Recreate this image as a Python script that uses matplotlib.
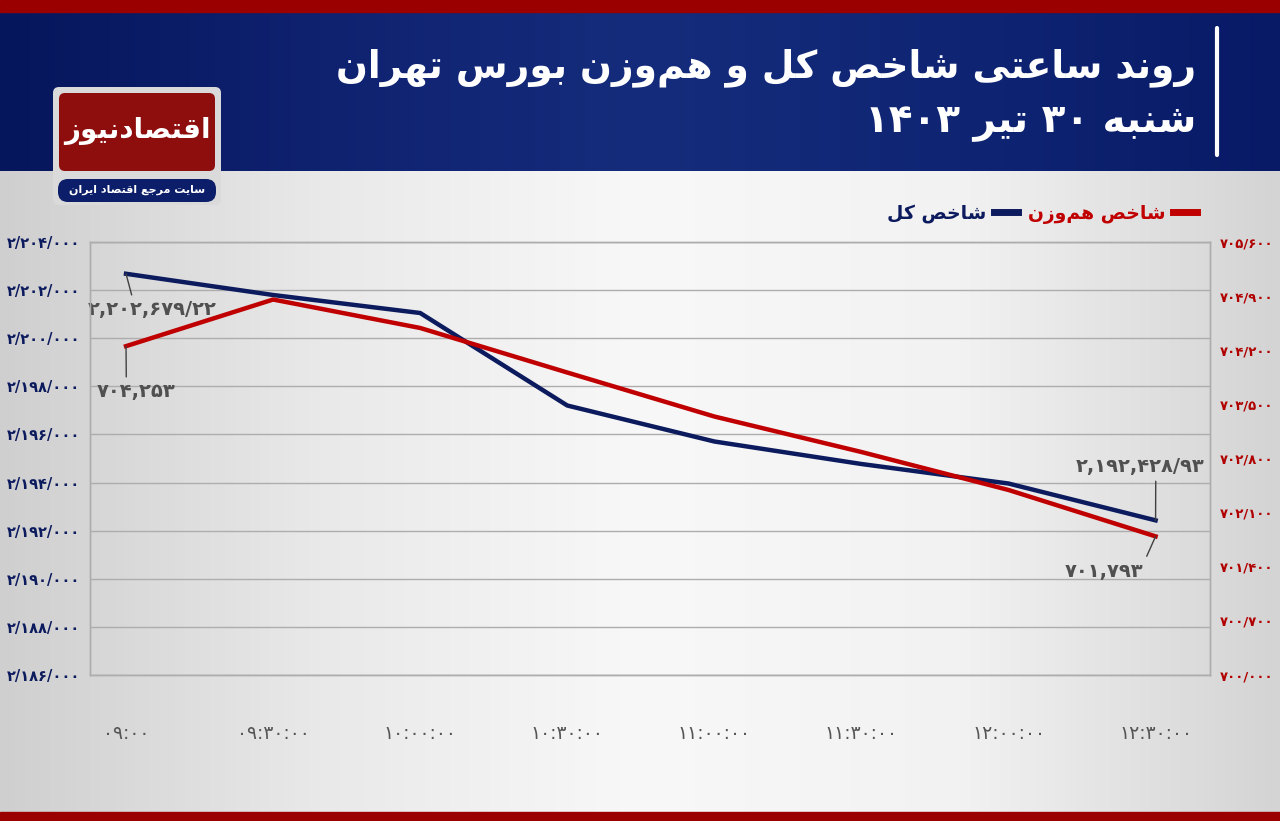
import re
import numpy as np
import matplotlib
matplotlib.use("Agg")
import matplotlib.pyplot as plt
from matplotlib.patches import FancyBboxPatch, Rectangle
from matplotlib.colors import LinearSegmentedColormap
from matplotlib.ticker import FixedLocator, FuncFormatter

# data
times = ["09:00", "09:30:00", "10:00:00", "10:30:00", "11:00:00", "11:30:00", "12:00:00", "12:30:00"]
total_index = [2202679.22, 2201797, 2201048, 2197203, 2195707, 2194771, 2193960, 2192428.93]
equal_index = [704253, 704856, 704488, 703912, 703343, 702884, 702393, 701793]
left_ticks = [2186000, 2188000, 2190000, 2192000, 2194000, 2196000, 2198000, 2200000, 2202000, 2204000]
right_ticks = [700000, 700700, 701400, 702100, 702800, 703500, 704200, 704900, 705600]

title1 = "روند ساعتی شاخص کل و هم\u200cوزن بورس تهران"
title2 = "شنبه ۳۰ تیر ۱۴۰۳"
name_total = "شاخص کل"
name_equal = "شاخص هم\u200cوزن"
logo_text = "اقتصادنیوز"
logo_sub = "سایت مرجع اقتصاد ایران"

NAVY = "#0c1a5e"
RED = "#c00000"

# --- simple arabic shaping (isolated, final, initial, medial)
FORMS = {
    'ا': ('\uFE8D', '\uFE8E', None, None),
    'آ': ('\uFE81', '\uFE82', None, None),
    'ب': ('\uFE8F', '\uFE90', '\uFE91', '\uFE92'),
    'پ': ('\uFB56', '\uFB57', '\uFB58', '\uFB59'),
    'ت': ('\uFE95', '\uFE96', '\uFE97', '\uFE98'),
    'ث': ('\uFE99', '\uFE9A', '\uFE9B', '\uFE9C'),
    'ج': ('\uFE9D', '\uFE9E', '\uFE9F', '\uFEA0'),
    'چ': ('\uFB7A', '\uFB7B', '\uFB7C', '\uFB7D'),
    'ح': ('\uFEA1', '\uFEA2', '\uFEA3', '\uFEA4'),
    'خ': ('\uFEA5', '\uFEA6', '\uFEA7', '\uFEA8'),
    'د': ('\uFEA9', '\uFEAA', None, None),
    'ذ': ('\uFEAB', '\uFEAC', None, None),
    'ر': ('\uFEAD', '\uFEAE', None, None),
    'ز': ('\uFEAF', '\uFEB0', None, None),
    'ژ': ('\uFB8A', '\uFB8B', None, None),
    'س': ('\uFEB1', '\uFEB2', '\uFEB3', '\uFEB4'),
    'ش': ('\uFEB5', '\uFEB6', '\uFEB7', '\uFEB8'),
    'ص': ('\uFEB9', '\uFEBA', '\uFEBB', '\uFEBC'),
    'ض': ('\uFEBD', '\uFEBE', '\uFEBF', '\uFEC0'),
    'ط': ('\uFEC1', '\uFEC2', '\uFEC3', '\uFEC4'),
    'ظ': ('\uFEC5', '\uFEC6', '\uFEC7', '\uFEC8'),
    'ع': ('\uFEC9', '\uFECA', '\uFECB', '\uFECC'),
    'غ': ('\uFECD', '\uFECE', '\uFECF', '\uFED0'),
    'ف': ('\uFED1', '\uFED2', '\uFED3', '\uFED4'),
    'ق': ('\uFED5', '\uFED6', '\uFED7', '\uFED8'),
    'ک': ('\uFB8E', '\uFB8F', '\uFB90', '\uFB91'),
    'گ': ('\uFB92', '\uFB93', '\uFB94', '\uFB95'),
    'ل': ('\uFEDD', '\uFEDE', '\uFEDF', '\uFEE0'),
    'م': ('\uFEE1', '\uFEE2', '\uFEE3', '\uFEE4'),
    'ن': ('\uFEE5', '\uFEE6', '\uFEE7', '\uFEE8'),
    'ه': ('\uFEE9', '\uFEEA', '\uFEEB', '\uFEEC'),
    'و': ('\uFEED', '\uFEEE', None, None),
    'ی': ('\uFBFC', '\uFBFD', '\uFBFE', '\uFBFF'),
}


def fa(s):
    out = []
    for i, ch in enumerate(s):
        if ch not in FORMS:
            out.append(ch)
            continue
        prev = s[i - 1] if i > 0 else None
        nxt = s[i + 1] if i < len(s) - 1 else None
        jp = prev in FORMS and FORMS[prev][2] is not None
        jn = nxt in FORMS and FORMS[ch][2] is not None
        iso, fin, ini, med = FORMS[ch]
        out.append(med if (jp and jn) else fin if jp else ini if jn else iso)
    t = "".join(out).replace("\u200c", "")[::-1]
    t = re.sub(r"[0-9۰-۹][0-9۰-۹,/:.]*", lambda m: m.group(0)[::-1], t)
    return t


def fdig(s):
    return s.translate(str.maketrans("0123456789", "۰۱۲۳۴۵۶۷۸۹"))


plt.rcParams["font.family"] = ["DejaVu Sans"]

fig = plt.figure(figsize=(12.8, 8.21), dpi=100)

# background canvas in pixel coords
bg = fig.add_axes([0, 0, 1, 1])
bg.axis("off")

gray_cm = LinearSegmentedColormap.from_list("g", ["#cfcfcf", "#e9e9e9", "#f8f8f8", "#f2f2f2", "#d4d4d4"])
bg.imshow(np.linspace(0, 1, 256)[None, :], cmap=gray_cm, aspect="auto", extent=(0, 1280, 812, 170))
navy_cm = LinearSegmentedColormap.from_list("n", ["#06165c", "#0f2270", "#152c7c", "#0f2574", "#081a66"])
bg.imshow(np.linspace(0, 1, 256)[None, :], cmap=navy_cm, aspect="auto", extent=(0, 1280, 171, 12))
bg.add_patch(Rectangle((0, 0), 1280, 12, color="#9b0000"))
bg.add_patch(Rectangle((0, 812), 1280, 9, color="#9b0000"))
bg.set_xlim(0, 1280)
bg.set_ylim(821, 0)

# title
bg.plot([1217, 1217], [28, 155], color="white", lw=3, solid_capstyle="round")
bg.text(1196, 68, fa(title1), color="white", fontsize=27, fontweight="bold", ha="right", va="center")
bg.text(1196, 123, fa(title2), color="white", fontsize=28, fontweight="bold", ha="right", va="center")

# logo
bg.add_patch(FancyBboxPatch((53, 87), 168, 118, boxstyle="round,pad=0,rounding_size=6", fc="#dadada", ec="none"))
bg.add_patch(FancyBboxPatch((59, 93), 156, 78, boxstyle="round,pad=0,rounding_size=6", fc="#8e0d0d", ec="none"))
bg.text(137, 131, fa(logo_text), color="white", fontsize=20, fontweight="bold", ha="center", va="center")
bg.add_patch(FancyBboxPatch((58, 179), 158, 23, boxstyle="round,pad=0,rounding_size=10", fc="#0c1d69", ec="none"))
bg.text(137, 190, fa(logo_sub), color="white", fontsize=8, fontweight="bold", ha="center", va="center")

# main chart
ax = fig.add_axes([90 / 1280, (821 - 675) / 821, 1120 / 1280, 433 / 821])
ax.set_facecolor("none")
ax2 = ax.twinx()
x = np.arange(len(times))
ax.plot(x, total_index, color=NAVY, lw=3.2, label=fa(name_total), zorder=3)
ax2.plot(x, equal_index, color=RED, lw=3.2, label=fa(name_equal), zorder=3)

ax.set_xlim(-0.245, 7.37)
ax.set_ylim(left_ticks[0], left_ticks[-1])
ax2.set_ylim(right_ticks[0], right_ticks[-1])
ax.yaxis.set_major_locator(FixedLocator(left_ticks))
ax2.yaxis.set_major_locator(FixedLocator(right_ticks))
ax.yaxis.set_major_formatter(FuncFormatter(lambda v, p: fdig(f"{int(v):,}".replace(",", "/"))))
ax2.yaxis.set_major_formatter(FuncFormatter(lambda v, p: fdig(f"{int(v):,}".replace(",", "/"))))
ax.set_xticks(x)
ax.set_xticklabels([fdig(t) for t in times])
ax.grid(axis="y", color="#adadad", lw=1)
ax.set_axisbelow(True)
ax.tick_params(axis="y", length=0, pad=7, labelsize=10.5, labelcolor=NAVY)
ax2.tick_params(axis="y", length=0, pad=7, labelsize=9.5, labelcolor="#b00000")
ax.tick_params(axis="x", length=0, pad=35, labelsize=13.5, labelcolor="#555555")
for t in ax.get_yticklabels():
    t.set_fontweight("bold")
for t in ax2.get_yticklabels():
    t.set_fontweight("bold")
for a in (ax, ax2):
    for sp in a.spines.values():
        sp.set_color("#adadad")
        sp.set_linewidth(1)

# value callouts
ann = dict(color="#505050", fontsize=14, fontweight="bold", ha="center", va="center")
line = dict(arrowstyle="-", color="#404040", lw=1, shrinkA=2, shrinkB=0)
ax.annotate(fdig(f"{total_index[0]:,.2f}".replace(".", "/")), xy=(x[0], total_index[0]),
            xytext=(19, -26), textcoords="offset points",
            arrowprops=dict(line, relpos=(0.35, 1.0)), **ann)
ax2.annotate(fdig(f"{equal_index[0]:,}"), xy=(x[0], equal_index[0]),
             xytext=(7, -33), textcoords="offset points",
             arrowprops=dict(line, relpos=(0.38, 1.0)), **ann)
ax.annotate(fdig(f"{total_index[-1]:,.2f}".replace(".", "/")), xy=(x[-1], total_index[-1]),
            xytext=(-11, 39), textcoords="offset points",
            arrowprops=dict(line, relpos=(0.62, 0.0)), **ann)
ax2.annotate(fdig(f"{equal_index[-1]:,}"), xy=(x[-1], equal_index[-1]),
             xytext=(-37, -25), textcoords="offset points",
             arrowprops=dict(line, relpos=(1.0, 0.9)), **ann)

# legend
h1, l1 = ax.get_legend_handles_labels()
h2, l2 = ax2.get_legend_handles_labels()
leg = fig.legend(h1 + h2, l1 + l2, ncol=2, markerfirst=False, frameon=False,
                 loc="center right", bbox_to_anchor=(1214 / 1280, 1 - 214 / 821),
                 prop=dict(size=13.5, weight="bold"), labelcolor="linecolor",
                 handlelength=1.3, handletextpad=0.4, columnspacing=0.5)
for h in leg.get_lines():
    h.set_linewidth(5)

fig.savefig("out.png", dpi=100)
